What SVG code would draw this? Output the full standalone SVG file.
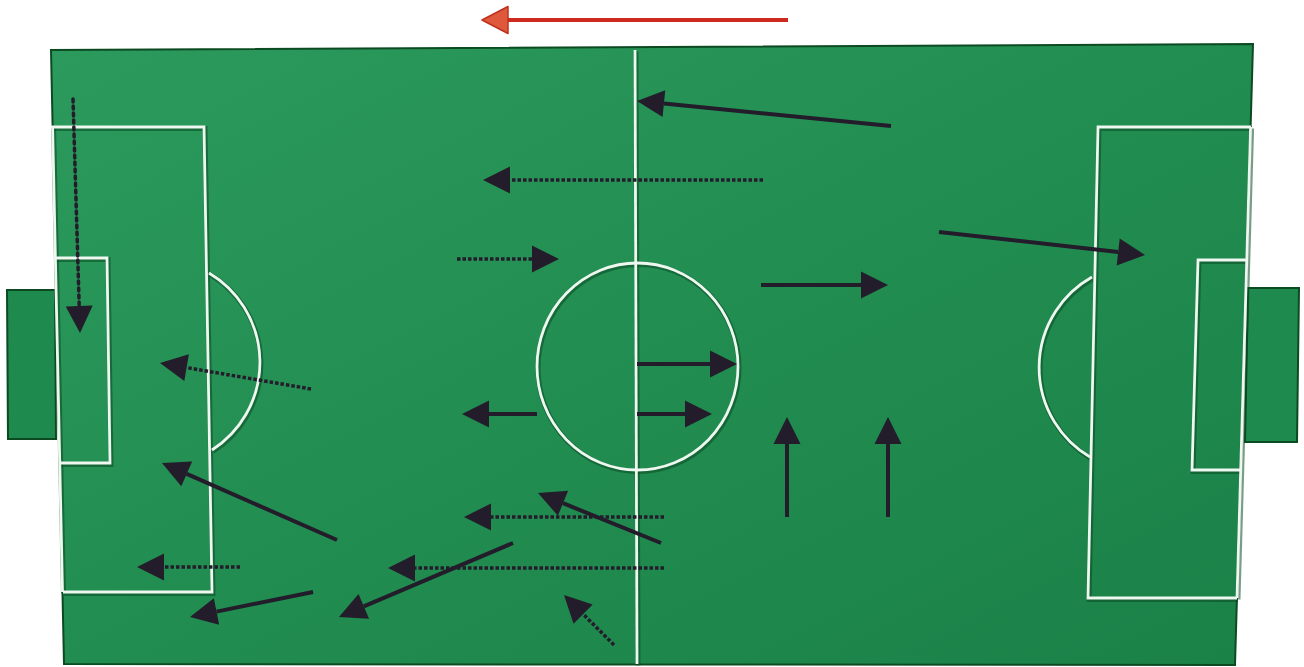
<svg xmlns="http://www.w3.org/2000/svg" xmlns:xlink="http://www.w3.org/1999/xlink" width="1304" height="667" viewBox="0 0 1304 667">
  <defs>
    <linearGradient id="grass" x1="0" y1="0" x2="1" y2="1">
      <stop offset="0" stop-color="#2c9a5d"/>
      <stop offset="0.5" stop-color="#228d51"/>
      <stop offset="1" stop-color="#1a8147"/>
    </linearGradient>
    <marker id="ah" markerUnits="userSpaceOnUse" refX="0" refY="0" orient="auto" overflow="visible">
      <path d="M0,-13.5 L27,0 L0,13.5 Z" fill="#231c2b"/>
    </marker>
    <marker id="ahRed" markerUnits="userSpaceOnUse" refX="0" refY="0" orient="auto" overflow="visible">
      <path d="M0,-13.5 L26,0 L0,13.5 Z" fill="#e0583c" stroke="#c0301d" stroke-width="1.5" stroke-linejoin="round"/>
    </marker>
    <g id="markings" fill="none">
      <path d="M51,127 L204,127 L212,592 L63,592"/>
      <path d="M52.6,127 L62.5,592"/>
      <path d="M55.5,258 L107,258 L110,463 L59.7,463"/>
      <path d="M209,273 A104 104 0 0 1 212,450"/>
      <path d="M1251,127 L1098,127 L1088,598 L1237,598"/>
      <path d="M1250.6,127 L1237,598"/>
      <path d="M1247,260 L1198,260 L1192,470 L1241,470"/>
      <path d="M1092,277 A104 104 0 0 0 1090,457"/>
      <path d="M635,50 L637,664"/>
      <ellipse cx="637.5" cy="366.5" rx="100.5" ry="103.5"/>
    </g>
    <style>
      .goal { fill: #1f8a4e; stroke: #0c4a22; stroke-width: 2; }
      .field { fill: url(#grass); stroke: #0c4a22; stroke-width: 2; }
      .solid { fill: none; stroke: #231c2b; stroke-width: 4; marker-end: url(#ah); }
      .dotted { fill: none; stroke: #231c2b; stroke-width: 3.5; stroke-dasharray: 3.5 2; marker-end: url(#ah); }
      .dots { fill: none; stroke: #231c2b; stroke-width: 3.5; stroke-dasharray: 3 4; stroke-linecap: round; marker-end: url(#ah); }
      .red { fill: none; stroke: #cc2a1e; stroke-width: 4; marker-end: url(#ahRed); }
    </style>
  </defs>

  <rect width="1304" height="667" fill="#ffffff"/>

  <g id="pitch">
    <polygon id="goal-left" class="goal" points="7,290 55,290 56,439 8,439"/>
    <polygon id="goal-right" class="goal" points="1248,288 1299,288 1297,442 1245,442"/>
    <polygon id="field" class="field" points="51,50 1253,44 1235,665 64,664"/>
    <use xlink:href="#markings" href="#markings" stroke="#0b4a22" stroke-width="5" stroke-opacity="0.55" transform="translate(1,1.5)"/>
    <use xlink:href="#markings" href="#markings" stroke="#eef8f0" stroke-width="2.8"/>
  </g>

  <g id="direction">
    <line class="red" x1="788" y1="20" x2="508" y2="20"/>
  </g>

  <g id="connectors">
    <line class="solid" x1="891" y1="126" x2="663.9" y2="103.6"/>
    <line class="dotted" x1="763" y1="180" x2="510" y2="180"/>
    <line class="dotted" x1="457" y1="259" x2="532" y2="259"/>
    <line class="solid" x1="761" y1="285" x2="861" y2="285"/>
    <line class="solid" x1="939" y1="232" x2="1118.2" y2="252"/>
    <line class="dots" x1="73" y1="99" x2="79.2" y2="306"/>
    <line class="dotted" x1="311" y1="389" x2="186.6" y2="367.6"/>
    <line class="solid" x1="537" y1="414" x2="489" y2="414"/>
    <line class="solid" x1="637" y1="364" x2="710" y2="364"/>
    <line class="solid" x1="637" y1="414" x2="685" y2="414"/>
    <line class="solid" x1="787" y1="517" x2="787" y2="444"/>
    <line class="solid" x1="888" y1="517" x2="888" y2="444"/>
    <line class="solid" x1="337" y1="540" x2="186.7" y2="473.9"/>
    <line class="dotted" x1="240" y1="567" x2="164" y2="567"/>
    <line class="solid" x1="313" y1="592" x2="216.5" y2="611.6"/>
    <line class="solid" x1="513" y1="543" x2="363.8" y2="606.4"/>
    <line class="dotted" x1="664" y1="517" x2="491" y2="517"/>
    <line class="solid" x1="661" y1="543" x2="563" y2="503.2"/>
    <line class="dotted" x1="664" y1="568" x2="415" y2="568"/>
    <line class="dotted" x1="614" y1="645" x2="583.1" y2="614.1"/>
  </g>
</svg>
